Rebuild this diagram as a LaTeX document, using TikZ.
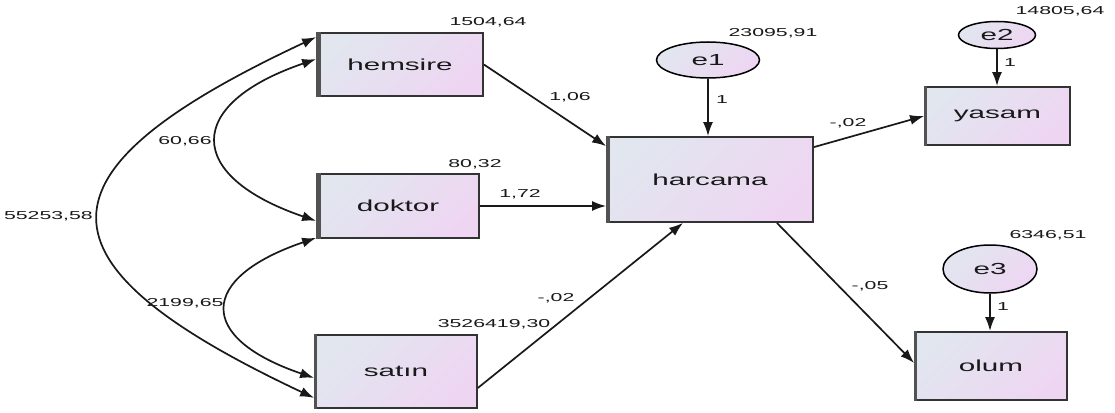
\documentclass[tikz,border=0pt]{standalone}
\usepackage{fontspec}
\setmainfont{Liberation Sans}
\newfontfamily\wide[FakeStretch=1.85]{Liberation Sans}
\usetikzlibrary{arrows.meta,shapes.geometric}
\definecolor{boxtl}{HTML}{E1E6EF}
\definecolor{boxbr}{HTML}{EED6F2}
\definecolor{edge}{HTML}{333333}
\begin{document}
\begin{tikzpicture}[x=1pt,y=-1pt,
  var/.style={rectangle, draw=edge, line width=1.8pt, inner sep=0pt,
    top color=boxtl, bottom color=boxbr, shading angle=45,
    font=\wide\fontsize{16}{18}\selectfont, text=black!90},
  err/.style={ellipse, draw=black, line width=1.5pt, inner sep=0pt,
    top color=boxtl, bottom color=boxbr, shading angle=45,
    font=\wide\fontsize{16}{18}\selectfont, text=black!90},
  num/.style={font=\wide\fontsize{11.5}{13}\selectfont, inner sep=0pt, text=black!90},
  reg/.style={-{Latex[length=14pt,width=10pt]}, line width=1.7pt, draw=black!90},
  cov/.style={{Latex[length=14pt,width=10pt]}-{Latex[length=14pt,width=10pt]}, line width=1.7pt, draw=black!90},
  leftedge/.style={line width=5pt, draw=edge!85}
]
\fill[white] (0,0) rectangle (1115,412);
\useasboundingbox (0,0) rectangle (1115,412);

% observed variables
\node[var, minimum width=166pt, minimum height=63pt] (hem) at (400,64.5) {hemsire};
\node[var, minimum width=162pt, minimum height=64pt] (dok) at (398,206) {doktor};
\node[var, minimum width=162pt, minimum height=73pt] (sat) at (396,371.5) {satın};
\node[var, minimum width=206pt, minimum height=85pt] (har) at (710,179.5) {harcama};
\node[var, minimum width=145pt, minimum height=58pt] (yas) at (997.5,116) {yasam};
\node[var, minimum width=152pt, minimum height=68pt] (olu) at (991,366) {olum};

% thick left edges
\draw[leftedge] ([xshift=2pt]hem.north west) -- ([xshift=2pt]hem.south west);
\draw[leftedge] ([xshift=2pt]dok.north west) -- ([xshift=2pt]dok.south west);
\draw[leftedge, line width=3pt] ([xshift=1pt]sat.north west) -- ([xshift=1pt]sat.south west);
\draw[leftedge, line width=4pt] ([xshift=1.5pt]har.north west) -- ([xshift=1.5pt]har.south west);
\draw[leftedge, line width=3.5pt] ([xshift=1.5pt]yas.north west) -- ([xshift=1.5pt]yas.south west);
\draw[leftedge, line width=3.5pt] ([xshift=1.5pt]olu.north west) -- ([xshift=1.5pt]olu.south west);

% error terms
\node[err, minimum width=103pt, minimum height=36pt] (e1) at (708,60) {e1};
\node[err, minimum width=77pt, minimum height=27pt] (e2) at (997,35) {e2};
\node[err, minimum width=94pt, minimum height=48pt] (e3) at (990,269) {e3};

% regression paths
\draw[reg] (hem.east) -- ([yshift=-10pt]har.north west);
\draw[reg] (dok.east) -- (dok.east -| har.west);
\draw[reg] ([yshift=21pt]sat.south east) -- ([xshift=-27pt]har.south);
\draw[reg] ([yshift=-11pt]har.north east) -- (yas.west);
\draw[reg] ([xshift=-37pt]har.south east) -- ([yshift=3pt]olu.west);
\draw[reg] (e1.south) -- (e1.south |- har.north);
\draw[reg] (e2.south) -- (e2.south |- yas.north);
\draw[reg] (e3.south) -- (e3.south |- olu.north);

% covariances
\draw[cov] ([yshift=-5pt]hem.north west) .. controls +(-289,135) and +(-287,-135) .. ([yshift=11pt]sat.south west);
\draw[cov] ([yshift=-27pt]hem.north west) .. controls +(-132,45) and +(-132,-45) .. ([yshift=18pt]dok.south west);
\draw[cov] ([yshift=1pt]dok.south west) .. controls +(-118,40) and +(-118,-40) .. ([yshift=31pt]sat.south west);

% estimates
\node[num] (vhem) at (488,22) {1504,64};
\node[num] (vdok) at (475,164) {80,32};
\node[num] (vsat) at (494,324) {3526419,30};
\node[num] (ve1) at (773,33) {23095,91};
\node[num] (ve2) at (1060,11) {14805,64};
\node[num] (ve3) at (1048,235) {6346,51};
\node[num] (w1) at (570,97) {1,06};
\node[num] (w2) at (520,194) {1,72};
\node[num] (w3) at (556,298) {-,02};
\node[num] (w4) at (848,123) {-,02};
\node[num] (w5) at (870,286) {-,05};
\node[num] (f1) at (722,100) {1};
\node[num] (f2) at (1010,63) {1};
\node[num] (f3) at (1003,307) {1};
\node[num] (c1) at (185,141) {60,66};
\node[num, anchor=east] (c2) at (93,216) {55253,58};
\node[num] (c3) at (185,303) {2199,65};
\end{tikzpicture}
\end{document}
